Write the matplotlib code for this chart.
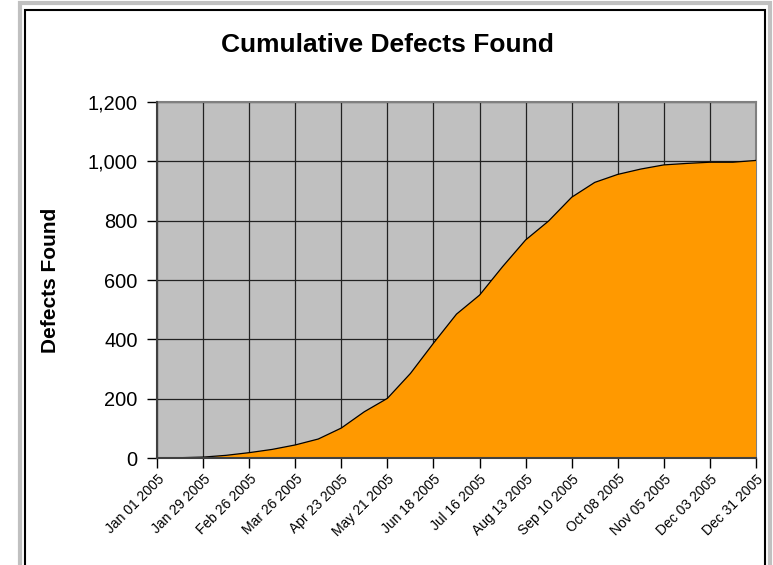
import numpy as np
import matplotlib
matplotlib.use("Agg")
import matplotlib.pyplot as plt
import matplotlib.dates as mdates
from matplotlib.patches import Rectangle
from matplotlib.ticker import FuncFormatter

plt.rcParams['font.family'] = ['Liberation Sans', 'DejaVu Sans']

# --- data: cumulative defects, sampled every two weeks ---
dates = np.arange(np.datetime64('2005-01-01'), np.datetime64('2006-01-01'), np.timedelta64(14, 'D'))
defects = [0, 1, 3, 9, 18, 29, 44, 64, 101, 156, 201, 285, 387, 485,
           549, 645, 735, 799, 879, 929, 956, 974, 988, 993, 997, 997, 1003]
tick_dates = np.arange(np.datetime64('2005-01-01'), np.datetime64('2006-01-07'), np.timedelta64(28, 'D'))
y_ticks = [0, 200, 400, 600, 800, 1000, 1200]

W, H = 773, 565
fig = plt.figure(figsize=(W / 100, H / 100), dpi=100)

# outer gray + inner black frame (bottom cut off like the screenshot)
fig.patches.append(Rectangle((19.5 / W, -0.05), 750 / W, 1.05 - 3 / H, transform=fig.transFigure,
                             fill=False, edgecolor='#c0c0c0', lw=3.0))
fig.patches.append(Rectangle((24.5 / W, -0.05), 740 / W, 1.05 - 9.5 / H, transform=fig.transFigure,
                             fill=False, edgecolor='black', lw=1.5))

ax = fig.add_axes([157 / W, (H - 458) / H, (756 - 157) / W, (458 - 102) / H])
ax.set_facecolor('#c0c0c0')

x = mdates.date2num(dates.astype('datetime64[D]').astype(object))
xt = mdates.date2num(tick_dates.astype('datetime64[D]').astype(object))

ax.fill_between(x, defects, 0, facecolor='#ff9900', edgecolor='none', zorder=3)
ax.plot(x, defects, color='black', lw=0.9, zorder=4)

ax.set_xlim(xt[0], xt[-1])
ax.set_ylim(0, 1200)
ax.set_xticks(xt)
ax.set_xticklabels([d.strftime('%b %d %Y') for d in tick_dates.astype(object)],
                   rotation=45, ha='right', rotation_mode='anchor', fontsize=10)
ax.set_yticks(y_ticks)
ax.yaxis.set_major_formatter(FuncFormatter(lambda v, p: f'{int(v):,}'))
ax.tick_params(axis='y', labelsize=14.4, length=7, width=1, direction='out', pad=7)
ax.tick_params(axis='x', length=7, width=1, direction='out', pad=3)

ax.grid(True, color='#222222', lw=0.9, zorder=2)
ax.set_axisbelow(True)

for s in ['top', 'right']:
    ax.spines[s].set_color('#808080')
    ax.spines[s].set_linewidth(1.5)
for s in ['left', 'bottom']:
    ax.spines[s].set_color('#404040')
    ax.spines[s].set_linewidth(1.5)
    ax.spines[s].set_zorder(5)

ax.set_ylabel('Defects Found', fontsize=15, fontweight='bold', labelpad=20)
fig.text(387 / W, 1 - 45 / H, 'Cumulative Defects Found', ha='center', va='center',
         fontsize=19, fontweight='bold')

fig.savefig('out.png', dpi=100)
